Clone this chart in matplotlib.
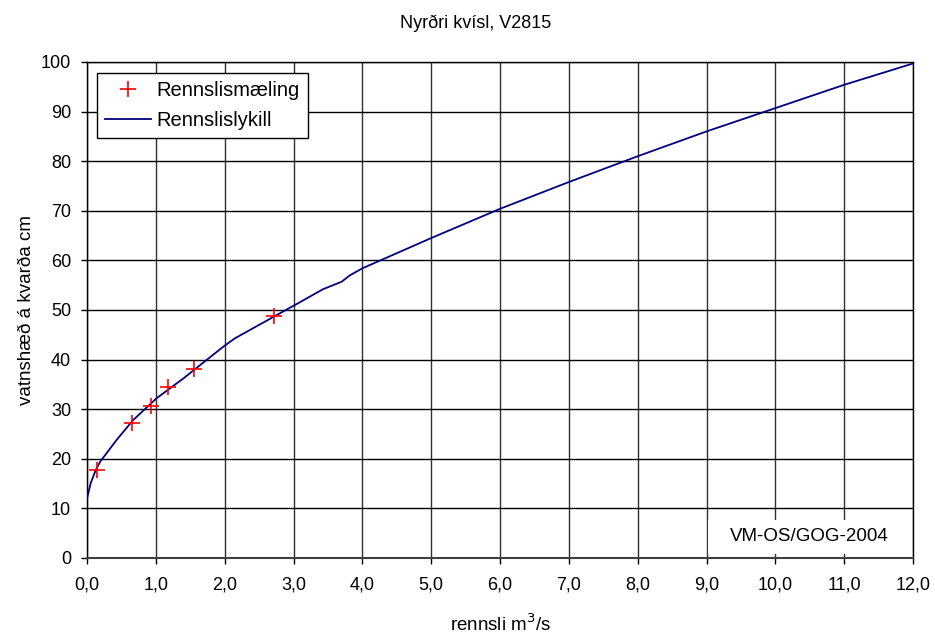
import matplotlib
matplotlib.use("Agg")
import matplotlib.pyplot as plt
from matplotlib.ticker import FuncFormatter, MultipleLocator
from matplotlib.patches import Rectangle

plt.rcParams['font.family'] = ['Liberation Sans', 'DejaVu Sans']

# Measurements
meas_q = [0.15, 0.65, 0.93, 1.18, 1.555, 2.72]
meas_h = [17.8, 27.2, 30.6, 34.5, 38.2, 48.8]

# Rating curve
curve_q = [0.0, 0.054, 0.126, 0.19, 0.43, 0.67, 1.01, 1.40, 1.98, 2.15, 2.85, 3.02,
           3.43, 3.70, 3.82, 4.0, 5.0, 6.0, 7.0, 8.0, 9.0, 10.0, 11.0, 12.0]
curve_h = [12.0, 15.1, 17.7, 19.4, 23.8, 27.8, 32.2, 36.2, 42.6, 44.3, 49.7, 51.0,
           54.2, 55.7, 57.0, 58.4, 64.5, 70.4, 75.8, 81.0, 86.0, 90.7, 95.4, 99.7]

W, H = 935, 634
fig = plt.figure(figsize=(W / 100, H / 100), dpi=100)
ax = fig.add_axes([87 / W, 1 - 558 / H, (913 - 87) / W, (558 - 62) / H])

ax.plot(curve_q, curve_h, color='#000080', lw=1.3, label='Rennslislykill', zorder=3)
ax.plot(meas_q, meas_h, linestyle='none', marker='+', color='red', ms=12, mew=1.2,
        label='Rennslismæling', zorder=4)

ax.set_xlim(0, 12)
ax.set_ylim(0, 100)
ax.xaxis.set_major_locator(MultipleLocator(1))
ax.yaxis.set_major_locator(MultipleLocator(10))
ax.xaxis.set_major_formatter(FuncFormatter(lambda v, p: f"{v:.1f}".replace('.', ',')))
ax.grid(True, axis='y', color='black', lw=1.0)
ax.grid(True, axis='x', color='#303030', lw=1.0)
ax.set_axisbelow(True)
for s in ax.spines.values():
    s.set_color('black')
    s.set_linewidth(1.0)
ax.spines['bottom'].set_color('#404040')
ax.spines['bottom'].set_linewidth(1.5)
ax.tick_params(axis='x', labelsize=13, length=4.5, width=1, direction='out', pad=9, colors='black')
ax.tick_params(axis='y', labelsize=13, length=4.5, width=1, direction='out', pad=7)

fig.text(476 / W, 1 - 23 / H, 'Nyrðri kvísl, V2815', fontsize=13, ha='center', va='center')
ax.set_xlabel('rennsli m$^3$/s', fontsize=13.5, labelpad=14)
ax.set_ylabel('vatnshæð á kvarða cm', fontsize=13.5, labelpad=4)

h, l = ax.get_legend_handles_labels()
leg = ax.legend(h[::-1], l[::-1], loc='upper left',
                bbox_to_anchor=((97 - 87) / 826, (558 - 73) / 496),
                fontsize=14.5, frameon=True, fancybox=False, edgecolor='black',
                framealpha=1, borderpad=0.4, handlelength=2.3, handletextpad=0.25,
                labelspacing=0.55, borderaxespad=0)
leg.get_frame().set_linewidth(1.0)

# white label area covering the grid cell in the lower right
ax.add_patch(Rectangle((9.015, 0.8), 11.985 - 9.015, 7.66 - 0.8, fc='white', ec='none',
                       zorder=1))
ax.text(10.5, 4.3, 'VM-OS/GOG-2004', ha='center', va='center', fontsize=13.5, zorder=6)

fig.savefig('out.png', dpi=100)
